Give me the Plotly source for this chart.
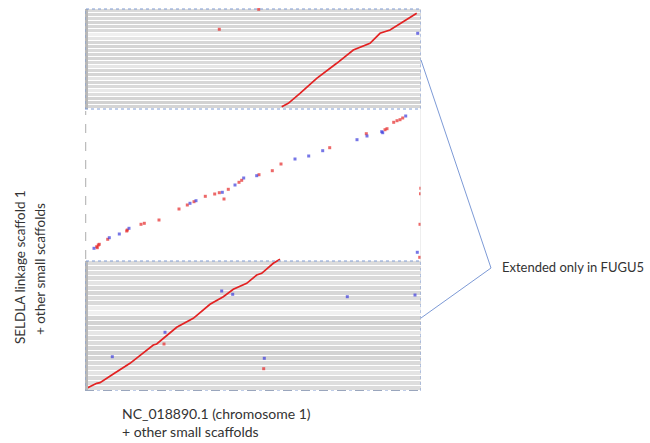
import numpy as np
import plotly.graph_objects as go

# ---- data (x: position on NC_018890.1 + small scaffolds, y: position on SELDLA scaffold 1 + small scaffolds) ----
X_MAX = 33.6
Y_MAX = 38.3

# main alignment run, lower block
low_x = [0.0, 0.17, 1.17, 1.5, 2.83, 4.5, 6.83, 7.17, 9.17, 10.83, 12.5, 13.83, 14.83, 16.17, 17.17, 17.67, 18.83, 19.5]
low_y = [0.1, 0.27, 0.77, 0.83, 1.7, 2.77, 4.6, 4.7, 6.37, 7.27, 8.67, 9.43, 10.17, 10.77, 11.6, 11.77, 12.77, 13.17]

# main alignment run, upper block
up_x = [19.67, 20.33, 21.5, 23.17, 25.17, 26.83, 28.5, 29.5, 30.5, 31.83, 33.17]
up_y = [28.43, 28.77, 29.77, 31.27, 32.77, 34.1, 34.77, 35.77, 36.1, 36.93, 37.77]

# scattered forward hits (red)
red_x = [1.17, 1.33, 1.23, 1.43, 2.27, 4.23, 4.17, 5.6, 5.93, 7.4, 9.4, 10.23, 10.9, 12.03, 12.97, 13.43,
         13.9, 14.33, 15.4, 15.67, 17.4, 18.73, 19.6, 24.47, 28.13, 30.0, 30.2, 30.87, 31.2, 31.5, 31.77,
         33.58, 33.55, 33.5, 33.47, 7.9, 17.87, 13.43, 17.37]
red_y = [14.43, 14.6, 14.33, 14.67, 15.17, 16.1, 16.0, 16.67, 16.77, 17.1, 18.2, 18.6, 18.93, 19.47, 19.7, 19.83,
         19.2, 20.17, 20.87, 21.07, 21.63, 22.03, 22.7, 24.33, 25.73, 26.13, 26.23, 26.87, 27.03, 27.13, 27.3,
         20.27, 19.73, 16.67, 13.37, 4.7, 2.23, 36.17, 38.17]

# scattered reverse hits (blue)
blue_x = [0.9, 2.43, 3.43, 4.4, 10.5, 11.1, 13.73, 15.0, 15.87, 17.17, 21.0, 22.37, 23.77, 27.2, 28.2,
          29.67, 29.77, 32.07, 33.23, 2.73, 8.0, 13.67, 14.77, 17.93, 26.23, 33.0, 33.27]
blue_y = [14.27, 15.33, 15.7, 16.27, 18.77, 19.03, 19.87, 20.6, 21.3, 21.53, 23.2, 23.5, 24.03, 25.13, 25.5,
          25.93, 25.83, 27.5, 13.87, 3.43, 5.87, 10.0, 9.67, 3.27, 9.43, 9.6, 35.77]

# shaded blocks (grey background bands), shades listed top -> bottom
LOW_BLOCK = (0.0, 13.0)
UP_BLOCK = (28.2, 38.2)
up_shades = [0.5, 0.45, 0.5, 0.42, 0.45, 0.5, 0.9, 0.7, 0.45, 0.42, 0.5, 0.45, 0.42, 0.5, 0.72, 0.45,
             0.42, 0.68, 0.45, 0.5, 0.78, 0.58, 0.4, 0.36, 0.42]
low_shades = [0.55, 0.5, 0.58, 0.5, 0.68, 0.5, 0.45, 0.55, 0.5, 0.85, 0.9, 0.42, 0.38, 0.45, 0.72, 0.5,
              0.55, 0.45, 0.38, 0.42, 0.5, 0.58, 0.68, 0.5, 0.58, 0.55]

W, H = 650, 443
PX_L, PX_R, PX_T, PX_B = 85, 421, 8, 391

fig = go.Figure()

grey_scale = [[0, "#bdbdbd"], [1, "#f6f6f6"]]
for (y0, y1), shades in ((LOW_BLOCK, low_shades), (UP_BLOCK, up_shades)):
    edges = np.linspace(y0, y1, len(shades) + 1)
    z = [[s] for s in shades[::-1]]
    fig.add_trace(go.Heatmap(x=[0, X_MAX], y=edges, z=z, colorscale=grey_scale, zmin=0, zmax=1,
                             ygap=1, showscale=False, hoverinfo="skip"))

fig.add_trace(go.Scatter(x=low_x, y=low_y, mode="lines", line=dict(color="#e32222", width=1.7),
                         hoverinfo="skip"))
fig.add_trace(go.Scatter(x=up_x, y=up_y, mode="lines", line=dict(color="#e32222", width=1.7),
                         hoverinfo="skip"))
fig.add_trace(go.Scatter(x=red_x, y=red_y, mode="markers",
                         marker=dict(symbol="square", size=3, color="rgba(230,40,40,0.7)", line=dict(width=0)),
                         hoverinfo="skip"))
fig.add_trace(go.Scatter(x=blue_x, y=blue_y, mode="markers",
                         marker=dict(symbol="square", size=3, color="rgba(60,60,220,0.7)", line=dict(width=0)),
                         hoverinfo="skip"))
fig.add_trace(go.Scatter(x=[low_x[0]], y=[low_y[0]], mode="markers",
                         marker=dict(symbol="square", size=5, color="#e82020"), hoverinfo="skip"))

shapes = []
# left darker edge of blocks
for y0, y1 in (LOW_BLOCK, UP_BLOCK):
    shapes.append(dict(type="rect", xref="x", yref="y", x0=0, x1=0.3, y0=y0, y1=y1,
                       fillcolor="#b8b8b8", line=dict(width=0), layer="above"))
    shapes.append(dict(type="rect", xref="x", yref="y", x0=0, x1=X_MAX, y0=y0, y1=y1,
                       line=dict(color="#7f9bd3", width=1, dash="dot"), layer="above"))
# dashed grey axes lines
shapes.append(dict(type="line", xref="x", yref="y", x0=0, x1=X_MAX, y0=0, y1=0,
                   line=dict(color="#9aa6bd", width=2, dash="dash")))
shapes.append(dict(type="line", xref="x", yref="y", x0=0, x1=0, y0=LOW_BLOCK[1] + 0.2, y1=UP_BLOCK[0] - 0.2,
                   line=dict(color="#bdbdbd", width=2.5, dash="dash")))
shapes.append(dict(type="line", xref="x", yref="y", x0=X_MAX, x1=X_MAX, y0=LOW_BLOCK[1], y1=UP_BLOCK[0],
                   line=dict(color="#dddddd", width=1)))
# callout bracket
shapes.append(dict(type="path", xref="paper", yref="paper",
                   path=f"M {421/W} {1-60/H} L {491/W} {1-268/H} L {421/W} {1-318/H}",
                   line=dict(color="#7d9ad6", width=1)))

font = "Lato, 'Open Sans', sans-serif"
txt = dict(family=font, size=14, color="#333333")
annotations = [
    dict(text="Extended only in FUGU5", xref="paper", yref="paper", x=500 / W, y=1 - 267 / H,
         xanchor="left", yanchor="middle", showarrow=False, font=dict(family=font, size=13, color="#333333")),
    dict(text="NC_018890.1 (chromosome 1)", xref="paper", yref="paper",
         x=120 / W, y=1 - 413 / H, xanchor="left", yanchor="middle", showarrow=False, font=txt),
    dict(text="+ other small scaffolds", xref="paper", yref="paper",
         x=120 / W, y=1 - 431 / H, xanchor="left", yanchor="middle", showarrow=False, font=txt),
    dict(text="SELDLA linkage scaffold 1", xref="paper", yref="paper",
         x=20 / W, y=1 - 267 / H, xanchor="center", yanchor="middle", textangle=-90,
         showarrow=False, font=dict(family=font, size=13.5, color="#333333")),
    dict(text="+ other small scaffolds", xref="paper", yref="paper",
         x=40 / W, y=1 - 269 / H, xanchor="center", yanchor="middle", textangle=-90,
         showarrow=False, font=dict(family=font, size=13.5, color="#333333")),
]

fig.update_layout(
    width=W, height=H, margin=dict(l=0, r=0, t=0, b=0),
    paper_bgcolor="white", plot_bgcolor="white", showlegend=False,
    xaxis=dict(domain=[PX_L / W, PX_R / W], range=[0, X_MAX], visible=False, fixedrange=True),
    yaxis=dict(domain=[1 - PX_B / H, 1 - PX_T / H], range=[0, Y_MAX], visible=False, fixedrange=True),
    shapes=shapes, annotations=annotations,
)

fig.write_html("out.html", config={"displayModeBar": False},
               post_script="document.body.style.margin='0';document.body.style.overflow='hidden';")
